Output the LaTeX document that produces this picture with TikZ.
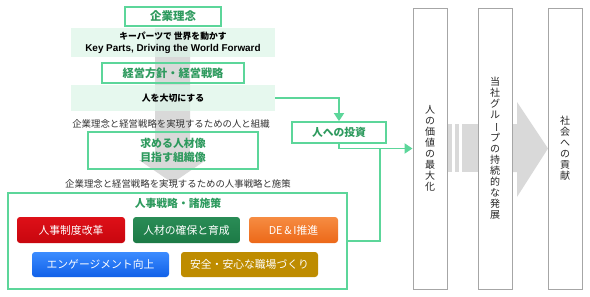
\documentclass[tikz,border=0pt]{standalone}
\usepackage{fontspec}
\setmainfont{Noto Sans CJK JP}
\newfontfamily\latinfont{Liberation Sans}
\usetikzlibrary{positioning, arrows.meta}

\definecolor{jgreen}{HTML}{5CD69A}
\definecolor{jdark}{HTML}{2E9A5E}
\definecolor{jband}{HTML}{DDF5E8}
\definecolor{jgray}{HTML}{D9D9D9}
\definecolor{jline}{HTML}{A6A6A6}
\definecolor{jtext}{HTML}{333333}

\begin{document}
\begin{tikzpicture}[x=1pt, y=-1pt]
        \tikzstyle{titlebox} = [rectangle, draw=jgreen, line width=1.8pt, text=jdark, font=\fontsize{11.2}{13}\selectfont\bfseries, align=center, inner sep=0pt]
        \tikzstyle{band} = [rectangle, fill=jband, fill opacity=0.75, text opacity=1, text=black, font=\fontsize{8.8}{12}\selectfont\bfseries, align=center, minimum width=204pt, inner sep=0pt]
        \tikzstyle{caption} = [text=jtext, font=\fontsize{9.4}{11}\selectfont, inner sep=0pt]
        \tikzstyle{measure} = [rectangle, rounded corners=3pt, text=white, font=\fontsize{10.8}{12}\selectfont, minimum height=26pt, inner sep=0pt]
        \tikzstyle{pillar} = [rectangle, draw=jline, line width=0.9pt, fill=white, minimum width=34pt, minimum height=281pt, text=black!85, font=\fontsize{10}{11}\selectfont, align=center, inner sep=0pt]
        \tikzstyle{arrow} = [draw=jgreen, line width=1.8pt, -{Triangle[length=8pt, width=10pt]}]
        \tikzstyle{link} = [draw=jgreen, line width=1.8pt]

        \useasboundingbox (0,0) rectangle (590,297);

        % gray flow arrows
        \fill[jgray] (155,28) -- (190,28) -- (190,160) -- (206,160) -- (172.5,183) -- (139,160) -- (155,160) -- cycle;
        \fill[jgray] (448,124) rectangle (452,172);
        \fill[jgray] (455,124) rectangle (459,172);
        \fill[jgray] (462,124) rectangle (478,172);
        \fill[jgray] (512,124) -- (517,124) -- (517,102) -- (548,148.5) -- (517,197) -- (517,172) -- (512,172) -- cycle;

        % left column
        \node (rinen) [titlebox, minimum width=96pt, minimum height=19pt, font=\fontsize{11.5}{13}\selectfont\bfseries] at (173,16.5) {企業理念};
        \node (keyparts) [band, minimum height=29pt] at (173,42.5) {キーパーツで\ 世界を動かす\\{\latinfont\fontsize{9.9}{12}\selectfont\bfseries Key Parts, Driving the World Forward}};
        \node (hoshin) [titlebox, minimum width=142pt, minimum height=20pt] at (173,73) {経営方針・経営戦略};
        \node (taisetsu) [band, minimum height=26pt, font=\fontsize{8.9}{11}\selectfont\bfseries] at (173,98) {人を大切にする};
        \node (cap1) [caption] at (171,124) {企業理念と経営戦略を実現するための人と組織};
        \node (jinzai) [titlebox, minimum width=170pt, minimum height=37pt, font=\fontsize{10.9}{14}\selectfont\bfseries] at (173,150.5) {求める人材像\\目指す組織像};
        \node (cap2) [caption] at (178,184) {企業理念と経営戦略を実現するための人事戦略と施策};
        \node (senryaku) [titlebox, minimum width=339pt, minimum height=96pt] at (177.5,241) {};
        \node (senryakutitle) [text=jdark, font=\fontsize{10.8}{12}\selectfont\bfseries, inner sep=0pt] at (178,203) {人事戦略・諸施策};

        % measures
        \node (seido) [measure, minimum width=108pt, top color={rgb,255:red,222;green,16;blue,24}, bottom color={rgb,255:red,200;green,6;blue,14}] at (71,230) {人事制度改革};
        \node (kakuho) [measure, minimum width=107pt, top color={rgb,255:red,42;green,140;blue,86}, bottom color={rgb,255:red,28;green,122;blue,70}] at (186.5,230) {人材の確保と育成};
        \node (dei) [measure, minimum width=89pt, top color={rgb,255:red,246;green,140;blue,66}, bottom color={rgb,255:red,236;green,104;blue,24}] at (293.5,230) {DE\,\&\,I推進};
        \node (engage) [measure, minimum width=137pt, minimum height=25pt, top color={rgb,255:red,60;green,140;blue,255}, bottom color={rgb,255:red,16;green,96;blue,232}] at (100.5,264.5) {エンゲージメント向上};
        \node (anzen) [measure, minimum width=137pt, minimum height=25pt, fill={rgb,255:red,190;green,140;blue,0}] at (249.5,264.5) {安全・安心な職場づくり};

        % investment
        \node (toshi) [titlebox, minimum width=94pt, minimum height=21pt, font=\fontsize{10.8}{12}\selectfont\bfseries] at (339,132.5) {人への投資};
        \coordinate (join) at (380,148.5);

        % pillars
        \node (kachi) [pillar] at (430,148.5) {人\\の\\価\\値\\の\\最\\大\\化};
        \node (hatten) [pillar] at (495,148.5) {当\\社\\グ\\ル\\\rotatebox[origin=c]{-90}{ー}\\プ\\の\\持\\続\\的\\な\\発\\展};
        \node (koken) [pillar] at (565,148.5) {社\\会\\へ\\の\\貢\\献};

        % connectors
        \draw [arrow] (taisetsu.east) -| (toshi.north);
        \draw [arrow] (toshi.south) |- (kachi.west);
        \draw [link] (senryaku.east) -| (join);
\end{tikzpicture}
\end{document}
